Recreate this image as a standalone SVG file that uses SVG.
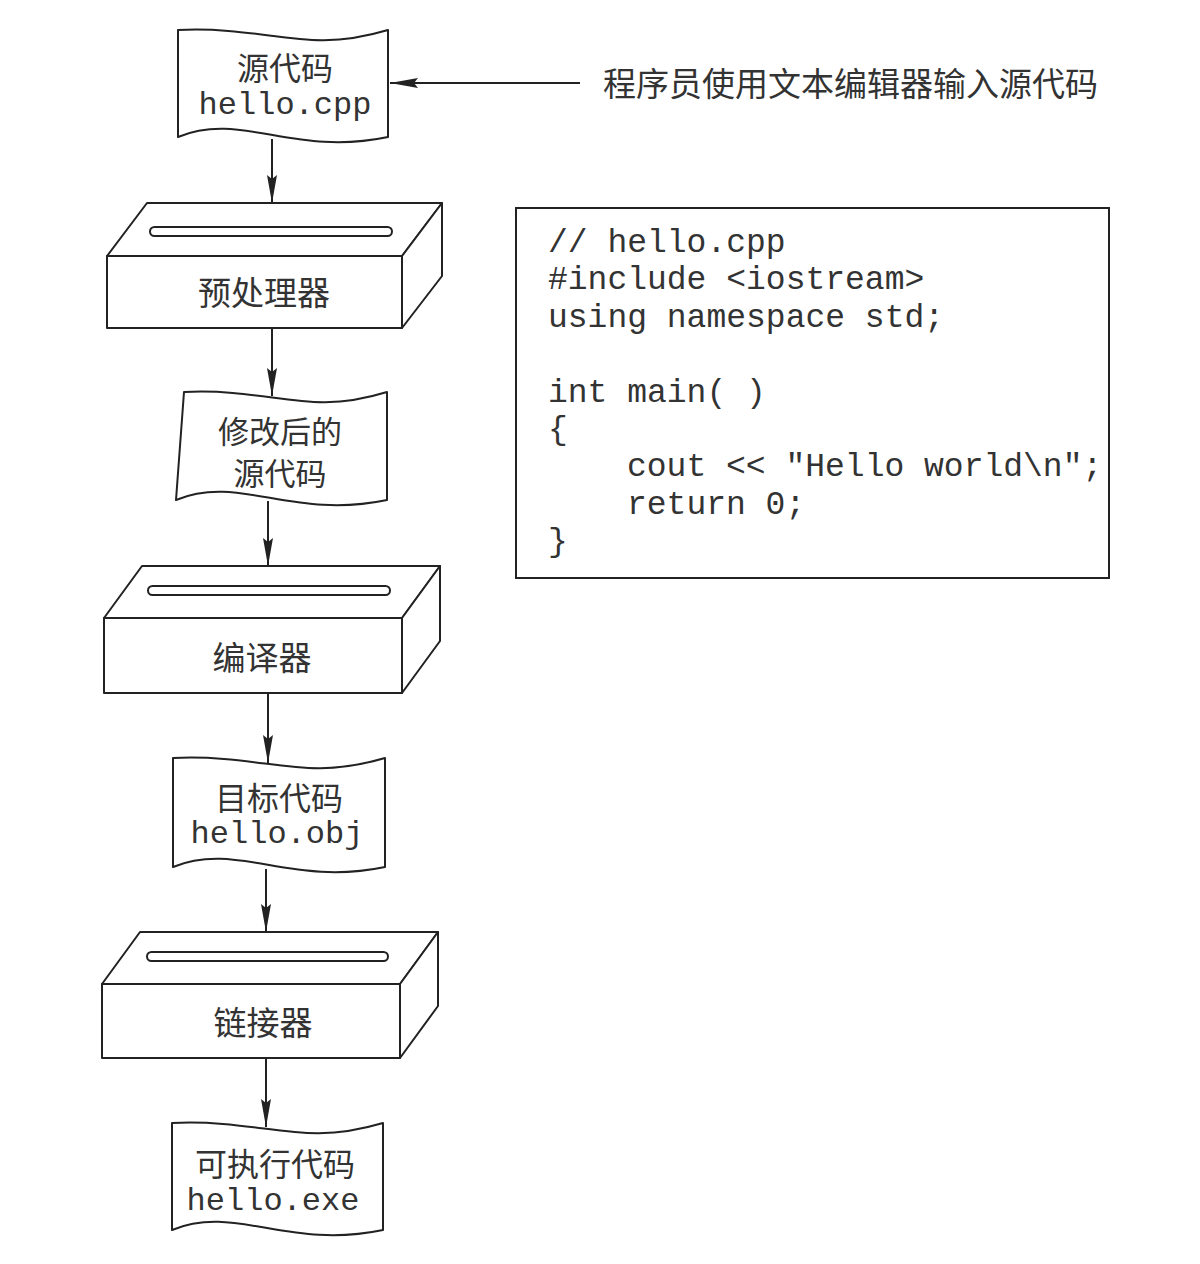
<svg xmlns="http://www.w3.org/2000/svg" width="1200" height="1264" viewBox="0 0 1200 1264">
<style>
.shape{fill:#fff;stroke:#222;stroke-width:2;stroke-linejoin:round}
.slot{fill:#fff;stroke:#222;stroke-width:2}
.cn{font-family:"Noto Sans CJK SC","Noto Sans",sans-serif;font-size:32px;fill:#333;text-anchor:middle;dominant-baseline:central}
.mono{font-family:"Liberation Mono","DejaVu Sans Mono",monospace;font-size:32px;fill:#333;text-anchor:middle;dominant-baseline:central}
.code{font-family:"Liberation Mono","DejaVu Sans Mono",monospace;font-size:33px;fill:#333;dominant-baseline:central;white-space:pre}
.conn{stroke:#222;stroke-width:2;fill:none;marker-end:url(#ah)}
</style>
<defs>
<marker id="ah" markerUnits="userSpaceOnUse" markerWidth="28" markerHeight="10" refX="28" refY="5" orient="auto">
<path d="M0,0 L28,5 L0,10 L4,5 Z" fill="#222"/>
</marker>
</defs>
<rect width="1200" height="1264" fill="#fff"/>

<g id="doc-source">
<path class="shape" d="M178,30 C272,26 304,55 388,30 L388,137 C293,157 241,111 178,137 Z"/>
<text class="cn" x="285" y="66">源代码</text>
<text class="mono" x="285" y="105">hello.cpp</text>
</g>

<g id="note-editor">
<text class="cn" x="603" y="82" style="text-anchor:start;font-size:33px">程序员使用文本编辑器输入源代码</text>
</g>

<g id="box-preprocessor">
<path class="shape" d="M107,256 L147,203 L442,203 L402,256 Z"/>
<rect class="shape" x="107" y="256" width="295" height="72"/>
<path class="shape" d="M402,256 L442,203 L442,276 L402,328 Z"/>
<rect class="slot" x="150" y="227" width="242" height="9" rx="4.5"/>
<text class="cn" x="264" y="291" style="font-size:33px">预处理器</text>
</g>

<g id="doc-modified">
<path class="shape" d="M184,392 C275,388 306,417 387,392 L387,500 C292,520 239,474 176,500 Z"/>
<text class="cn" x="280" y="429" style="font-size:31px">修改后的</text>
<text class="cn" x="280" y="471" style="font-size:31px">源代码</text>
</g>

<g id="box-compiler">
<path class="shape" d="M104,618 L142,566 L440,566 L402,618 Z"/>
<rect class="shape" x="104" y="618" width="298" height="75"/>
<path class="shape" d="M402,618 L440,566 L440,641 L402,693 Z"/>
<rect class="slot" x="148" y="586" width="242" height="9" rx="4.5"/>
<text class="cn" x="262" y="656" style="font-size:33px">编译器</text>
</g>

<g id="doc-object">
<path class="shape" d="M173,758 C268,754 300,783 385,758 L385,867 C290,887 237,841 173,867 Z"/>
<text class="cn" x="279" y="796">目标代码</text>
<text class="mono" x="277" y="834">hello.obj</text>
</g>

<g id="box-linker">
<path class="shape" d="M102,984 L140,932 L438,932 L400,984 Z"/>
<rect class="shape" x="102" y="984" width="298" height="74"/>
<path class="shape" d="M400,984 L438,932 L438,1006 L400,1058 Z"/>
<rect class="slot" x="147" y="952" width="241" height="9" rx="4.5"/>
<text class="cn" x="263" y="1021" style="font-size:33px">链接器</text>
</g>

<g id="doc-exe">
<path class="shape" d="M172,1123 C267,1119 299,1148 383,1123 L383,1230 C288,1250 235,1204 172,1230 Z"/>
<text class="cn" x="275" y="1162">可执行代码</text>
<text class="mono" x="273" y="1201">hello.exe</text>
</g>

<g id="code-box">
<rect x="516" y="208" width="593" height="370" fill="#fff" stroke="#222" stroke-width="2"/>
<text class="code" x="548" y="243">// hello.cpp</text>
<text class="code" x="548" y="280">#include &lt;iostream&gt;</text>
<text class="code" x="548" y="318">using namespace std;</text>
<text class="code" x="548" y="393">int main( )</text>
<text class="code" x="548" y="430">{</text>
<text class="code" x="627" y="467">cout &lt;&lt; "Hello world\n";</text>
<text class="code" x="627" y="505">return 0;</text>
<text class="code" x="548" y="542">}</text>
</g>

<g id="connectors">
<path class="conn" d="M580,83 L390,83"/>
<path class="conn" d="M272,139 L272,203"/>
<path class="conn" d="M272,328 L272,396"/>
<path class="conn" d="M268,501 L268,566"/>
<path class="conn" d="M268,693 L268,763"/>
<path class="conn" d="M266,869 L266,932"/>
<path class="conn" d="M266,1058 L266,1127"/>
</g>
</svg>
